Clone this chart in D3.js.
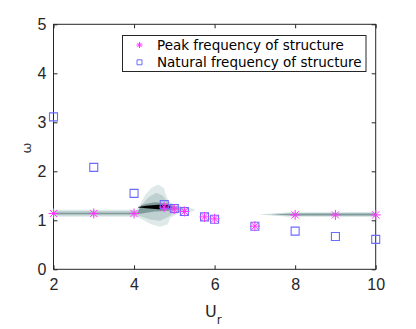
<!DOCTYPE html>
<html>
<head>
<meta charset="utf-8">
<script src="https://cdn.jsdelivr.net/npm/d3@7"></script>
<style>
  body { margin: 0; background: #fff; }
  svg { display: block; font-family: "DejaVu Sans", sans-serif; }
  .tick text { fill: #262626; font-size: 16px; }
  .tick line { stroke: #262626; }
</style>
</head>
<body>
<svg width="416" height="329"></svg>
<script>
// data
const ur = [2, 3, 4, 4.75, 5, 5.25, 5.75, 6, 7, 8, 9, 10];
const peakFreq = [1.14, 1.14, 1.14, 1.27, 1.23, 1.18, 1.07, 1.03, 0.88, 1.11, 1.11, 1.11];
const naturalFreq = [3.11, 2.08, 1.55, 1.32, 1.24, 1.18, 1.07, 1.02, 0.88, 0.78, 0.67, 0.61];
const xTicks = [2, 4, 6, 8, 10];
const yTicks = [0, 1, 2, 3, 4, 5];
const legendLabels = ["Peak frequency of structure", "Natural frequency of structure"];

// spectrum contour outlines (Ur, omega)
const shadeOuter = [[2,1.215],[4.06,1.215],[4.16,1.34],[4.28,1.52],[4.43,1.66],[4.6,1.73],[4.74,1.66],[4.8,1.5],[4.87,1.38],[5.1,1.3],[5.5,1.23],[5.5,1.19],[5.1,1.14],[4.9,1.05],[4.84,0.92],[4.65,0.87],[4.42,0.92],[4.22,1.01],[4.06,1.075],[2,1.075]];
const shadeMid = [[2,1.19],[4.1,1.19],[4.2,1.32],[4.36,1.47],[4.55,1.56],[4.72,1.5],[4.83,1.37],[5.0,1.3],[5.3,1.24],[5.3,1.19],[5.0,1.15],[4.86,1.07],[4.65,0.99],[4.42,1.01],[4.22,1.06],[4.1,1.1],[2,1.1]];
const shadeInner = [[2,1.155],[4.08,1.155],[4.18,1.31],[4.5,1.37],[4.8,1.35],[5.0,1.29],[5.12,1.245],[5.0,1.21],[4.8,1.19],[4.5,1.18],[4.2,1.14],[4.08,1.125],[2,1.125]];
const shadeCore = [[4.1,1.272],[4.3,1.295],[4.6,1.315],[4.84,1.31],[4.94,1.27],[4.84,1.23],[4.6,1.228],[4.3,1.245],[4.1,1.262]];
const rightOuter = [[7.1,1.12],[7.8,1.16],[10,1.165],[10,1.075],[7.8,1.08]];
const rightInner = [[7.4,1.12],[8,1.14],[10,1.14],[10,1.1],[8,1.1]];

const svg = d3.select("svg");
const width = +svg.attr("width");
const height = +svg.attr("height");
const margin = {left: 53.5, right: 40.3, top: 24.3, bottom: 59.7};

const x = d3.scaleLinear().domain([2, 10]).range([margin.left, width - margin.right]);
const y = d3.scaleLinear().domain([0, 5]).range([height - margin.bottom, margin.top]);

svg.append("defs").append("clipPath").attr("id", "clip")
  .append("rect")
  .attr("x", x(2)).attr("y", y(5))
  .attr("width", x(10) - x(2)).attr("height", y(0) - y(5));

const blur = svg.select("defs").append("filter").attr("id", "soft");
blur.append("feGaussianBlur").attr("stdDeviation", 0.7);

const line = d3.line().x(d => x(d[0])).y(d => y(d[1])).curve(d3.curveLinearClosed);

const shades = svg.append("g").attr("clip-path", "url(#clip)")
  .append("g").attr("filter", "url(#soft)");

const layers = [
  {pts: shadeOuter, c: "#dfe9e9"},
  {pts: rightOuter, c: "#cddbdb"},
  {pts: shadeMid, c: "#bfd0d0"},
  {pts: shadeInner, c: "#7f9b9b"},
  {pts: rightInner, c: "#7f9b9b"},
  {pts: shadeCore, c: "#000"}
];
shades.selectAll("path")
  .data(layers)
  .enter()
  .append("path")
  .attr("d", d => line(d.pts))
  .attr("fill", d => d.c);

// axes, ticks pointing in
svg.append("g")
  .attr("transform", `translate(0,${y(0)})`)
  .call(d3.axisBottom(x).tickValues(xTicks).tickSize(-4).tickPadding(9).tickFormat(d3.format("d")))
  .call(g => g.select(".domain").remove());
svg.append("g")
  .attr("transform", `translate(0,${y(5)})`)
  .call(d3.axisTop(x).tickValues(xTicks).tickSize(-4).tickFormat(""))
  .call(g => g.select(".domain").remove());
svg.append("g")
  .attr("transform", `translate(${x(2)},0)`)
  .call(d3.axisLeft(y).tickValues(yTicks).tickSize(-4).tickPadding(7).tickFormat(d3.format("d")))
  .call(g => g.select(".domain").remove());
svg.append("g")
  .attr("transform", `translate(${x(10)},0)`)
  .call(d3.axisRight(y).tickValues(yTicks).tickSize(-4).tickFormat(""))
  .call(g => g.select(".domain").remove());

svg.append("rect")
  .attr("x", x(2)).attr("y", y(5))
  .attr("width", x(10) - x(2)).attr("height", y(0) - y(5))
  .attr("fill", "none").attr("stroke", "#262626").attr("stroke-width", 1);

function asterisk(r) {
  const d = r * 0.72;
  return `M${-r},0L${r},0M0,${-r}L0,${r}M${-d},${-d}L${d},${d}M${-d},${d}L${d},${-d}`;
}

const peakColor = "#ff33ff";
const natColor = "#6b6bff";

svg.append("g")
  .selectAll("path")
  .data(ur)
  .enter()
  .append("path")
  .attr("transform", (d, i) => `translate(${x(d)},${y(naturalFreq[i])})`)
  .attr("d", "M-4,-4H4V4H-4Z")
  .attr("fill", "none")
  .attr("stroke", natColor)
  .attr("stroke-width", 1.1);

svg.append("g")
  .selectAll("path")
  .data(ur)
  .enter()
  .append("path")
  .attr("transform", (d, i) => `translate(${x(d)},${y(peakFreq[i])})`)
  .attr("d", asterisk(5))
  .attr("fill", "none")
  .attr("stroke", peakColor)
  .attr("stroke-width", 1);

// axis labels
const xl = svg.append("text")
  .attr("x", 205).attr("y", 317)
  .attr("fill", "#262626")
  .style("font-size", "16px")
  .text("U");
xl.append("tspan").attr("dy", 7).style("font-size", "12px").text("r");

svg.append("text")
  .attr("transform", "translate(31,148) rotate(-90)")
  .attr("text-anchor", "middle")
  .attr("fill", "#3a3a3a")
  .style("font-size", "13px")
  .text("ω");

// legend
const lg = svg.append("g");
lg.append("rect")
  .attr("x", 122.5).attr("y", 35.5).attr("width", 243.5).attr("height", 36)
  .attr("fill", "#fff").attr("stroke", "#262626").attr("stroke-width", 1);
const rows = lg.selectAll("g.row")
  .data(legendLabels)
  .enter()
  .append("g")
  .attr("class", "row")
  .attr("transform", (d, i) => `translate(0,${45 + i * 17.3})`);
rows.append("path")
  .attr("transform", "translate(139.5,0)")
  .attr("d", (d, i) => i === 0 ? asterisk(3) : "M-2.5,-2.5H2.5V2.5H-2.5Z")
  .attr("fill", "none")
  .attr("stroke", (d, i) => i === 0 ? peakColor : natColor);
rows.append("text")
  .attr("x", 157).attr("dy", "0.35em")
  .attr("fill", "#000")
  .style("font-size", "13.5px")
  .text(d => d);
</script>
</body>
</html>
